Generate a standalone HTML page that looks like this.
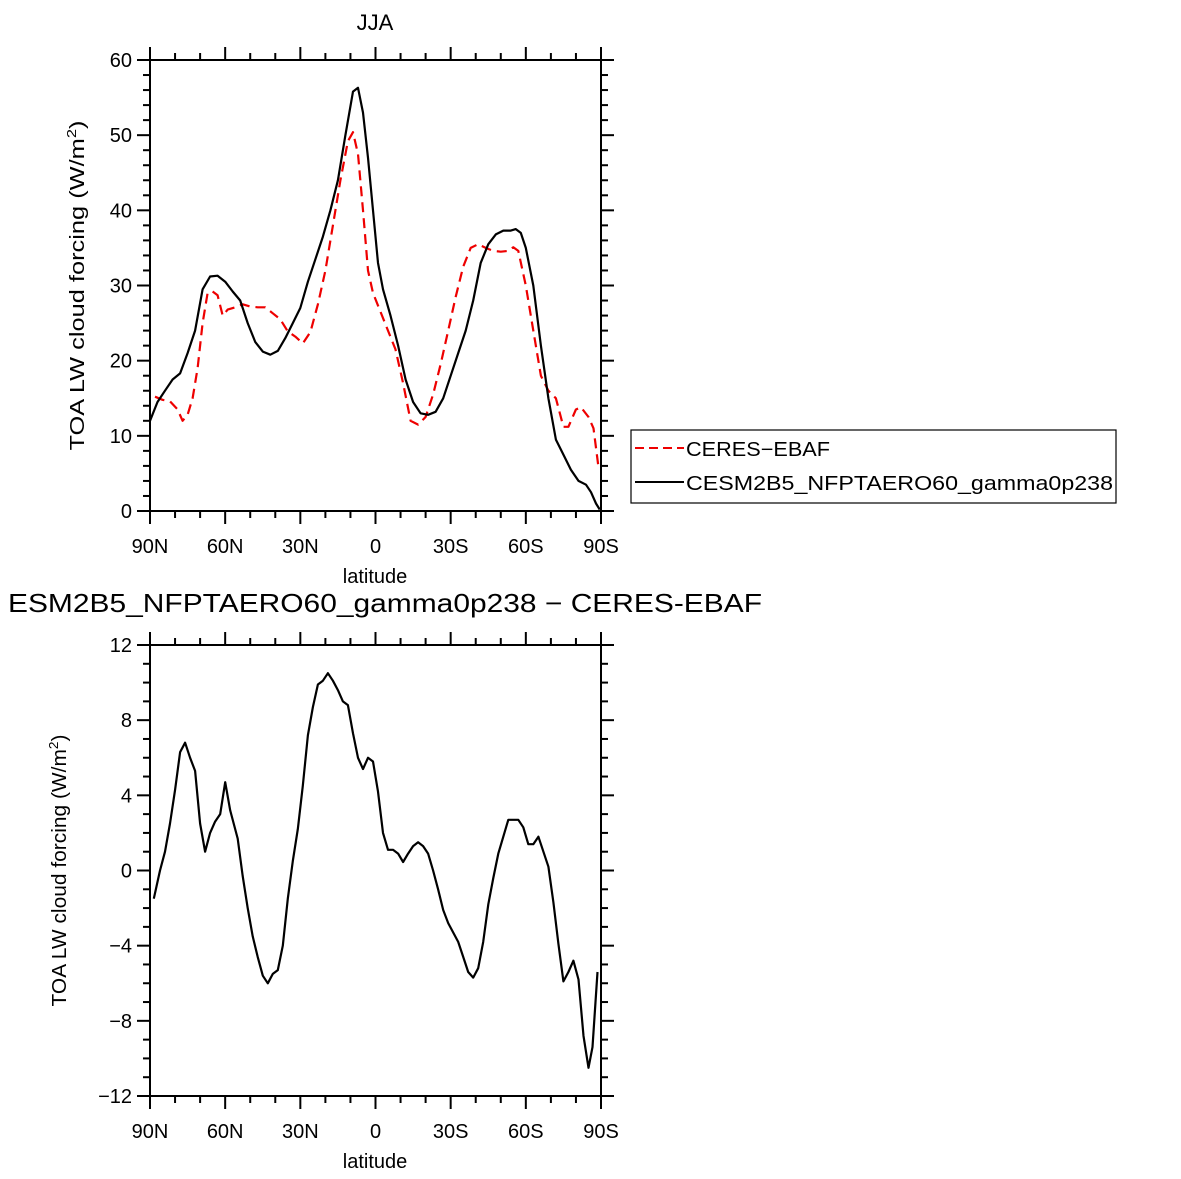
<!DOCTYPE html>
<html><head><meta charset="utf-8"><style>
body{margin:0;background:#fff}
svg{display:block;font-family:"Liberation Sans","DejaVu Sans",sans-serif}
</style></head><body>
<svg id="s" width="1181" height="1179" viewBox="0 0 1181 1179" xmlns="http://www.w3.org/2000/svg">
<text x="375" y="30" font-size="22" text-anchor="middle">JJA</text>
<text x="8" y="612" font-size="26" textLength="754" lengthAdjust="spacingAndGlyphs">ESM2B5_NFPTAERO60_gamma0p238 − CERES-EBAF</text>
<g>
<rect x="631" y="430" width="485" height="73" fill="#fff" stroke="#000" stroke-width="1.2"/>
<line x1="635" y1="448" x2="684" y2="448" stroke="#e00" stroke-width="2" stroke-dasharray="9,5"/>
<text x="686" y="456" font-size="20" textLength="144" lengthAdjust="spacingAndGlyphs">CERES−EBAF</text>
<line x1="635" y1="482" x2="684" y2="482" stroke="#000" stroke-width="2"/>
<text x="686" y="490" font-size="20" textLength="427" lengthAdjust="spacingAndGlyphs">CESM2B5_NFPTAERO60_gamma0p238</text>
</g>
</svg>
<script>
const modelLat=[90,87,84,81,78,75,72,69,66,63,60,57,54,51,48,45,42,39,36,33,30,27,24,21,18,15,12,9,7,5,3,1,-1,-3,-6,-9,-12,-15,-18,-21,-24,-27,-30,-33,-36,-39,-42,-45,-48,-51,-54,-56,-58,-60,-63,-66,-69,-72,-75,-78,-81,-84,-86,-88,-89.5];
const modelVal=[12,14.5,16,17.5,18.3,21,24,29.5,31.2,31.3,30.5,29.2,28,25,22.5,21.2,20.8,21.3,23,25,27,30.5,33.5,36.5,40,44,50,55.8,56.3,53,47,40,33,29.5,26,22,17.5,14.5,13,12.8,13.2,15,18,21,24,28,33,35.5,36.8,37.3,37.3,37.5,37,35,30,22,15,9.5,7.5,5.5,4,3.5,2.5,1,0.2];
const obsLat=[88,85,82,79,77,75,73,71,69,67,65,63,61,59,56,53,50,47,44,41,38,35,32,29,26,23,20,17,14,11,9,7,5,3,1,-2,-5,-8,-11,-14,-17,-20,-23,-26,-29,-32,-35,-38,-41,-44,-47,-50,-53,-55,-57,-60,-63,-66,-69,-72,-75,-77,-80,-82,-85,-87,-89];
const obsVal=[15.2,14.8,14.6,13.5,12,12.8,15,19,25,29,29.2,28.7,26,26.8,27.1,27.5,27.2,27.1,27.1,26.3,25.5,23.9,23.2,22.3,23.8,27.5,32,38,44,49.2,50.4,47.5,40,32,29,26.5,24,21.5,17,12,11.5,12.5,15.5,19.5,24,28.5,32.5,35,35.5,35,34.6,34.5,34.6,35.1,34.6,30,24,18,16,15,11.2,11.2,13.5,13.8,12.5,11,5.8];
const diffLat=[88.5,86,84,82,80,78,76,74,72,70,68,66,64,62,60,58,55,53,51,49,47,45,43,41,39,37,35,33,31,29,27,25,23,21,19,17,15,13,11,9,7,5,3,1,-1,-3,-5,-7,-9,-11,-13,-15,-17,-19,-21,-23,-25,-27,-29,-31,-33,-35,-37,-39,-41,-43,-45,-47,-49,-51,-53,-55,-57,-59,-61,-63,-65,-67,-69,-71,-73,-75,-77,-79,-81,-83,-85,-86.6,-88.6];
const diffVal=[-1.5,0,1,2.5,4.3,6.3,6.8,6,5.3,2.5,1,2,2.6,3,4.7,3.2,1.7,-0.3,-2,-3.5,-4.6,-5.6,-6,-5.5,-5.3,-4,-1.5,0.5,2.2,4.5,7.2,8.7,9.9,10.1,10.5,10.1,9.6,9,8.8,7.3,6,5.4,6,5.8,4.2,2,1.1,1.1,0.9,0.45,0.9,1.3,1.5,1.3,0.9,0,-1,-2.1,-2.8,-3.3,-3.8,-4.6,-5.4,-5.7,-5.2,-3.8,-1.8,-0.4,0.9,1.8,2.7,2.7,2.7,2.3,1.4,1.4,1.8,1,0.2,-1.7,-3.9,-5.9,-5.4,-4.8,-5.8,-8.8,-10.5,-9.4,-5.4];
const xTickLabels=["90N","60N","30N","0","30S","60S","90S"];
const topYTicks=[0,10,20,30,40,50,60];
const botYTicks=[-12,-8,-4,0,4,8,12];
const botYLabels=["−12","−8","−4","0","4","8","12"];

const NS="http://www.w3.org/2000/svg";
const svgEl=document.getElementById('s');
function mk(t,a,p){const e=document.createElementNS(NS,t);for(const k in a)e.setAttribute(k,a[k]);(p||svgEl).appendChild(e);return e;}
const L=150,R=601;
const X=lat=>L+(90-lat)/180*(R-L);

function panel(T,B,ymin,ymax,yTicks,yLabels,minorStep,name,ylabelX,ylabelLen){
  const Y=v=>B-(v-ymin)/(ymax-ymin)*(B-T);
  const g=mk('g',{});
  
  
  mk('rect',{x:L,y:T,width:R-L,height:B-T,fill:'none',stroke:'#000','stroke-width':2},g);
  for(let lat=90;lat>=-90;lat-=10){
    const x=X(lat),maj=lat%30===0,len=maj?13:7;
    mk('line',{x1:x,y1:B,x2:x,y2:B+len,stroke:'#000','stroke-width':2},g);
    mk('line',{x1:x,y1:T,x2:x,y2:T-len,stroke:'#000','stroke-width':2},g);
  }
  xTickLabels.forEach((s,i)=>{
    const t=mk('text',{x:X(90-30*i),y:B+42,'font-size':20,'text-anchor':'middle'},g);t.textContent=s;
    
    
  });
  const xl=mk('text',{x:375,y:B+72,'font-size':20,'text-anchor':'middle'},g);xl.textContent='latitude';
  
  
  for(let v=ymin;v<=ymax+1e-9;v+=minorStep){
    const y=Y(v),maj=yTicks.some(t=>Math.abs(t-v)<1e-9),len=maj?13:7;
    mk('line',{x1:L,y1:y,x2:L-len,y2:y,stroke:'#000','stroke-width':2},g);
    mk('line',{x1:R,y1:y,x2:R+len,y2:y,stroke:'#000','stroke-width':2},g);
  }
  yTicks.forEach((v,i)=>{
    const t=mk('text',{x:L-18,y:Y(v)+7,'font-size':20,'text-anchor':'end'},g);t.textContent=yLabels[i];
    
    
  });
  const cy=(T+B)/2;
  const yl=mk('text',{x:ylabelX,y:cy,'font-size':20,'text-anchor':'middle',textLength:ylabelLen,lengthAdjust:'spacingAndGlyphs',transform:`rotate(-90 ${ylabelX} ${cy})`},g);
  yl.innerHTML='TOA LW cloud forcing (W/m<tspan dy="-8" font-size="13">2</tspan><tspan dy="8">)</tspan>';
  
  
  return {g,Y};
}
function drawLine(g,Y,lats,vals,color,dash,name){
  const d=lats.map((la,i)=>(i?'L':'M')+X(la).toFixed(1)+','+Y(vals[i]).toFixed(1)).join(' ');
  const p=mk('path',{d:d,fill:'none',stroke:color,'stroke-width':2.2,'stroke-linejoin':'round'},g);
  if(dash)p.setAttribute('stroke-dasharray',dash);
  
  
}
const topP=panel(60,511,0,60,topYTicks,topYTicks.map(String),2,'top-panel',84,330);
drawLine(topP.g,topP.Y,obsLat,obsVal,'#e00','10,6','ceres-ebaf-line');
drawLine(topP.g,topP.Y,modelLat,modelVal,'#000',null,'model-line');
const botP=panel(645,1096,-12,12,botYTicks,botYLabels,1,'bottom-panel',66,272);
drawLine(botP.g,botP.Y,diffLat,diffVal,'#000',null,'difference-line');
</script>
</body></html>
